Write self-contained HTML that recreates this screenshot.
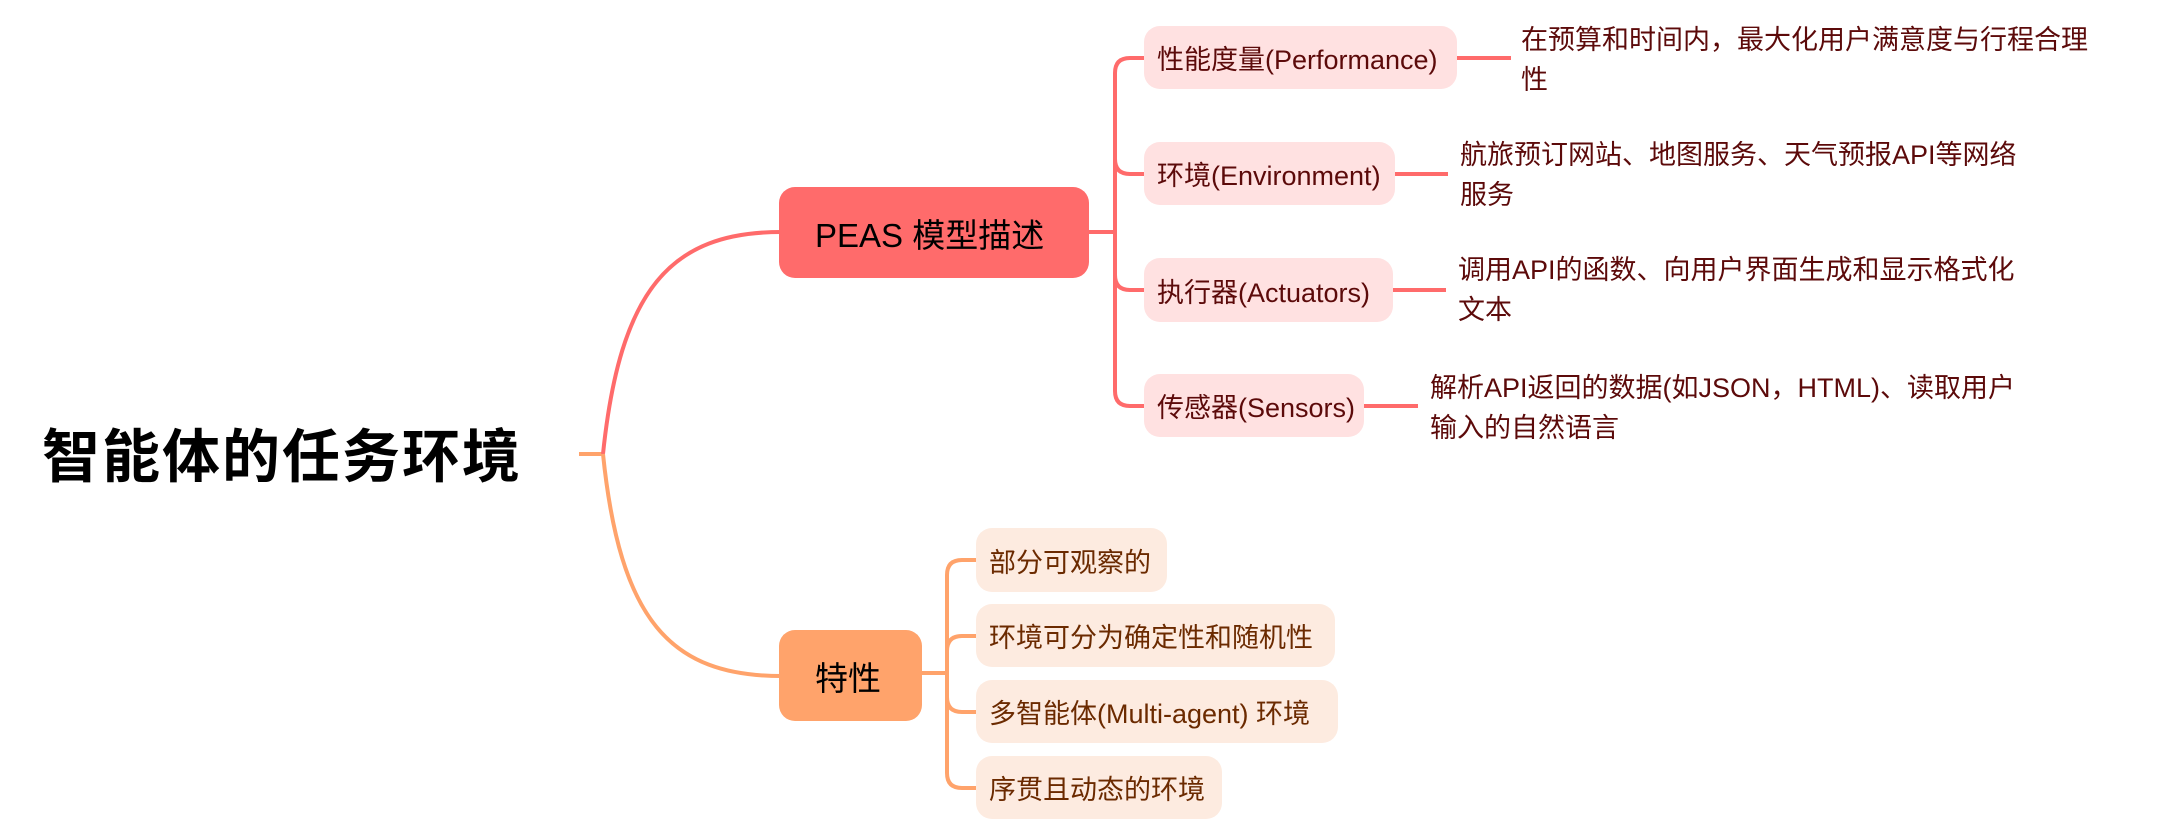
<!DOCTYPE html>
<html><head><meta charset="utf-8"><style>
body{margin:0;width:2166px;height:832px;background:#fff;position:relative;overflow:hidden;font-family:"Liberation Sans","Noto Sans CJK SC",sans-serif;}
.b{position:absolute;box-sizing:border-box;border-radius:16px;display:flex;align-items:center;white-space:nowrap;}
.p{background:#FFE1E1;color:#5c0a0a;font-size:27px;padding-left:13px;}
.o{background:#FDEBE0;color:#6b2a00;font-size:27px;padding-left:13px;}
.t{position:absolute;color:#5c0a0a;font-size:27px;line-height:40px;white-space:nowrap;}
</style></head><body>
<svg width="2166" height="832" style="position:absolute;left:0;top:0">
<g fill="none" stroke-width="4">
<path d="M579,454 H603" stroke="#FFA36B"/>
<path d="M603,454 C620,290 670,232 781,232" stroke="#FF6B6B"/>
<path d="M603,454 C620,620 670,676 781,676" stroke="#FFA36B"/>
<g stroke="#FF6B6B">
<path d="M1089,232 H1115"/>
<path d="M1144,58 H1130 Q1115,58 1115,73 V391 Q1115,406 1130,406 H1144"/>
<path d="M1115,159 Q1115,174 1130,174 H1144"/>
<path d="M1115,275 Q1115,290 1130,290 H1144"/>
<path d="M1457,58 H1511"/><path d="M1395,174 H1448"/><path d="M1393,290 H1446"/><path d="M1364,406 H1418"/>
</g>
<g stroke="#FFA36B">
<path d="M922,673 H947"/>
<path d="M976,560 H962 Q947,560 947,575 V773 Q947,788 962,788 H976"/>
<path d="M947,651 Q947,636 962,636 H976"/>
<path d="M947,697 Q947,712 962,712 H976"/>
</g>
</g></svg>
<div style="position:absolute;left:42px;top:420px;font-size:58px;font-weight:bold;color:#000;line-height:76px;white-space:nowrap;letter-spacing:2px">智能体的任务环境</div>
<div class="b" style="left:779px;top:187px;width:310px;height:91px;background:#FF6B6B;color:#000;font-size:33px;padding-left:36px">PEAS 模型描述</div>
<div class="b" style="left:779px;top:630px;width:143px;height:91px;background:#FFA36B;color:#000;font-size:33px;padding-left:36px">特性</div>
<div class="b p" style="left:1144px;top:26px;width:313px;height:63px">性能度量(Performance)</div>
<div class="b p" style="left:1144px;top:142px;width:251px;height:63px">环境(Environment)</div>
<div class="b p" style="left:1144px;top:258px;width:249px;height:64px">执行器(Actuators)</div>
<div class="b p" style="left:1144px;top:374px;width:220px;height:63px">传感器(Sensors)</div>
<div class="t" style="left:1521px;top:20px">在预算和时间内，最大化用户满意度与行程合理<br>性</div>
<div class="t" style="left:1460px;top:135px">航旅预订网站、地图服务、天气预报API等网络<br>服务</div>
<div class="t" style="left:1458px;top:250px">调用API的函数、向用户界面生成和显示格式化<br>文本</div>
<div class="t" style="left:1430px;top:368px">解析API返回的数据(如JSON，HTML)、读取用户<br>输入的自然语言</div>
<div class="b o" style="left:976px;top:528px;width:191px;height:64px">部分可观察的</div>
<div class="b o" style="left:976px;top:604px;width:359px;height:63px">环境可分为确定性和随机性</div>
<div class="b o" style="left:976px;top:680px;width:362px;height:63px">多智能体(Multi-agent) 环境</div>
<div class="b o" style="left:976px;top:756px;width:246px;height:63px">序贯且动态的环境</div>
</body></html>
